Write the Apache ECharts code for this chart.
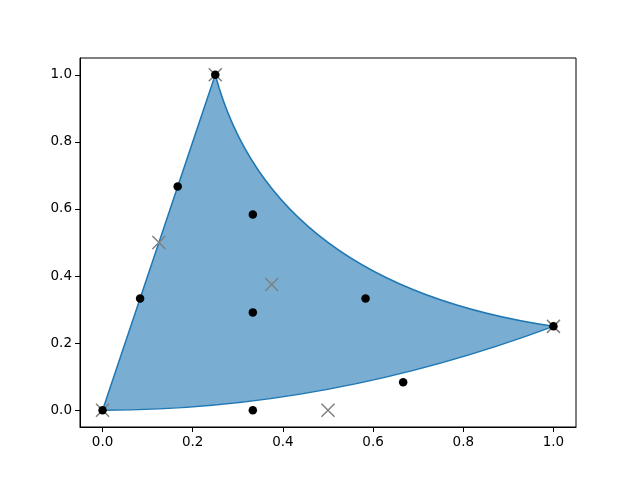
<!DOCTYPE html>
<html>
<head>
<meta charset="utf-8">
<script src="https://cdn.jsdelivr.net/npm/echarts@6/dist/echarts.min.js"></script>
<style>html,body{margin:0;padding:0;background:#fff;}#c{width:640px;height:480px;}</style>
</head>
<body>
<div id="c"></div>
<script>
// Quadratic Bezier triangle control net (gray x markers)
const quadX = [0, 0.5, 1, 0.125, 0.375, 0.25];
const quadY = [0, 0, 0.25, 0.5, 0.375, 1];
// Degree-elevated cubic control net (black dots)
const cubicX = [0, 0.3333, 0.6667, 1, 0.0833, 0.3333, 0.5833, 0.1667, 0.3333, 0.25];
const cubicY = [0, 0, 0.0833, 0.25, 0.3333, 0.2917, 0.3333, 0.6667, 0.5833, 1];
// Tick labels
const xTicks = [0, 0.2, 0.4, 0.6, 0.8, 1.0];
const yTicks = [0, 0.2, 0.4, 0.6, 0.8, 1.0];

const chart = echarts.init(document.getElementById('c'), null, {renderer: 'canvas'});
const font = 'DejaVu Sans';
function axis(ticks, isX) {
  return {
    type: 'value', min: -0.05, max: 1.05,
    axisLine: {show: true, onZero: false, lineStyle: {color: '#000', width: 1}},
    axisTick: {show: true, inside: false, length: 5, customValues: ticks, lineStyle: {color: '#000', width: 1}},
    axisLabel: {show: true, margin: 8, customValues: ticks, color: '#000', fontFamily: font, fontSize: 13.5,
      formatter: v => v.toFixed(1)},
    splitLine: {show: false}
  };
}
const option = {
  animation: false,
  backgroundColor: '#fff',
  grid: {left: 80, right: 64, top: 58, bottom: 53, show: true, borderColor: '#000', borderWidth: 1, backgroundColor: 'transparent'},
  xAxis: axis(xTicks, true),
  yAxis: axis(yTicks, false),
  series: [
    {
      type: 'custom', z: 1,
      data: [[quadX[0], quadY[0]]],
      renderItem: function (params, api) {
        const p = quadX.map((x, i) => api.coord([x, quadY[i]]));
        const f = q => q[0].toFixed(2) + ' ' + q[1].toFixed(2);
        const d = 'M ' + f(p[0]) + ' Q ' + f(p[1]) + ' ' + f(p[2]) +
                  ' Q ' + f(p[4]) + ' ' + f(p[5]) +
                  ' Q ' + f(p[3]) + ' ' + f(p[0]) + ' Z';
        return {
          type: 'path',
          shape: {pathData: d},
          style: {fill: 'rgba(31,119,180,0.6)', stroke: '#1f77b4', lineWidth: 1.5, lineJoin: 'round'}
        };
      }
    },
    {
      type: 'scatter', z: 2,
      data: quadX.map((x, i) => [x, quadY[i]]),
      symbol: 'path://M0,0L10,10M10,0L0,10',
      symbolSize: 13,
      itemStyle: {color: 'rgba(0,0,0,0)', borderColor: '#808080', borderWidth: 1.5, opacity: 1},
      emphasis: {disabled: true}
    },
    {
      type: 'scatter', z: 3,
      data: cubicX.map((x, i) => [x, cubicY[i]]),
      symbol: 'circle',
      symbolSize: 8.5,
      itemStyle: {color: '#000', opacity: 1},
      emphasis: {disabled: true}
    }
  ]
};
chart.setOption(option);
</script>
</body>
</html>
